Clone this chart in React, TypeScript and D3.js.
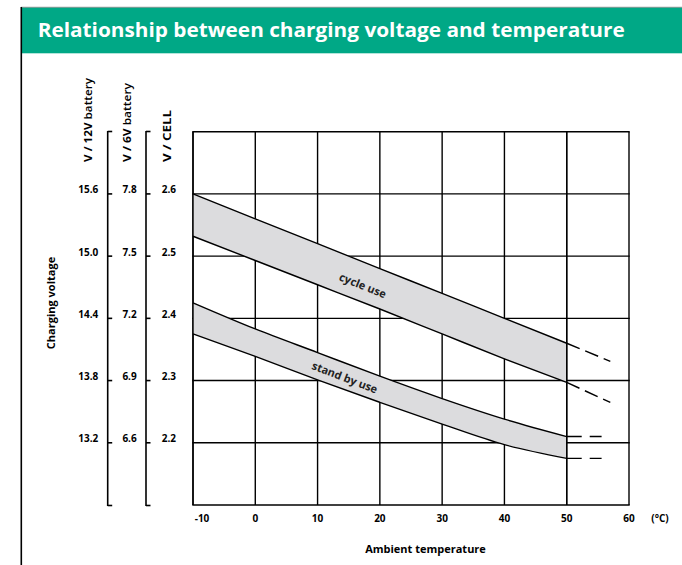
import React from "react";
import * as d3 from "d3";

const temps = [-10, 0, 10, 20, 30, 40, 50];
const cycleUpper = [2.6, 2.56, 2.52, 2.48, 2.44, 2.4, 2.36];
const cycleLower = [2.532, 2.493, 2.454, 2.415, 2.375, 2.335, 2.297];
const standUpper = [2.425, 2.383, 2.345, 2.307, 2.271, 2.238, 2.21];
const standLower = [2.375, 2.339, 2.301, 2.265, 2.23, 2.197, 2.175];

const cycleExtTemps = [50, 57];
const cycleUpperExt = [2.36, 2.331];
const cycleLowerExt = [2.297, 2.265];
const standExtTemps = [50, 55.6];
const standUpperExt = [2.21, 2.21];
const standLowerExt = [2.175, 2.175];

const xTicks = [-10, 0, 10, 20, 30, 40, 50, 60];
const cellTicks = [2.2, 2.3, 2.4, 2.5, 2.6];
const v12Ticks = [13.2, 13.8, 14.4, 15.0, 15.6];
const v6Ticks = [6.6, 6.9, 7.2, 7.5, 7.8];
const gridY = [2.1, 2.2, 2.3, 2.4, 2.5, 2.6, 2.7];

const FONT = "'Open Sans', Lato, sans-serif";

export default function App() {
  const W = 682, H = 565;
  const x = d3.scaleLinear().domain([-10, 60]).range([193, 629]);
  const y = d3.scaleLinear().domain([2.1, 2.7]).range([505, 131.7]);
  const y12 = d3.scaleLinear().domain([12.6, 16.2]).range([505, 131.7]);
  const y6 = d3.scaleLinear().domain([6.3, 8.1]).range([505, 131.7]);

  const area = (up: number[], lo: number[]) =>
    d3
      .area<number>()
      .x((_, i) => x(temps[i]))
      .y0((_, i) => y(lo[i]))
      .y1((_, i) => y(up[i]))
      .curve(d3.curveMonotoneX)(up) || "";
  const line = (ts: number[], vs: number[]) =>
    d3
      .line<number>()
      .x((_, i) => x(ts[i]))
      .y((v) => y(v))
      .curve(d3.curveMonotoneX)(vs) || "";

  const cycAngle =
    (Math.atan2(y(cycleUpper[6]) - y(cycleUpper[0]), x(50) - x(-10)) * 180) / Math.PI;
  const stAngle =
    (Math.atan2(y(standUpper[4]) - y(standUpper[0]), x(30) - x(-10)) * 180) / Math.PI;

  const axisBracket = (ax: number) => (
    <g>
      <line x1={ax} x2={ax} y1={131} y2={506} stroke="#000" strokeWidth={1.6} />
      <line x1={ax} x2={ax + 4.5} y1={131.5} y2={131.5} stroke="#000" strokeWidth={1.6} />
      <line x1={ax} x2={ax + 4.5} y1={505.5} y2={505.5} stroke="#000" strokeWidth={1.6} />
    </g>
  );

  return (
    <svg width={W} height={H} style={{ display: "block", position: "absolute", left: 0, top: 0 }} fontFamily={FONT}>
      <rect x={0} y={0} width={W} height={H} fill="#fff" />
      {/* header */}
      <line x1={21} x2={682} y1={7.3} y2={7.3} stroke="#666" strokeWidth={0.8} />
      <rect x={22} y={7.7} width={660} height={45.6} fill="#00a886" />
      <line x1={21.3} x2={21.3} y1={7} y2={565} stroke="#000" strokeWidth={1.6} />
      <text x={37.7} y={37} fill="#fff" fontWeight={700} fontSize={19.5} textLength={587} lengthAdjust="spacingAndGlyphs">
        Relationship between charging voltage and temperature
      </text>

      {/* grid */}
      {xTicks.map((t) => (
        <line key={"gx" + t} x1={x(t)} x2={x(t)} y1={y(2.7)} y2={y(2.1)} stroke="#000" strokeWidth={1.4} />
      ))}
      {gridY.map((v) => (
        <line key={"gy" + v} x1={x(-10) - 0.7} x2={x(60) + 0.7} y1={y(v)} y2={y(v)} stroke="#000" strokeWidth={1.4} />
      ))}

      {/* bands */}
      <path d={area(cycleUpper, cycleLower)} fill="#dcdcde" />
      <path d={area(standUpper, standLower)} fill="#dcdcde" />
      {[-10, 50].map((t) => (
        <line key={"re" + t} x1={x(t)} x2={x(t)} y1={y(2.7)} y2={y(2.1)} stroke="#000" strokeWidth={1.4} />
      ))}

      {/* band edges */}
      <path d={line(temps, cycleUpper)} fill="none" stroke="#000" strokeWidth={1.4} />
      <path d={line(temps, cycleLower)} fill="none" stroke="#000" strokeWidth={1.4} />
      <path d={line(temps, standUpper)} fill="none" stroke="#000" strokeWidth={1.4} />
      <path d={line(temps, standLower)} fill="none" stroke="#000" strokeWidth={1.4} />
      <path d={line(cycleExtTemps, cycleUpperExt)} fill="none" stroke="#000" strokeWidth={1.4} strokeDasharray="14,6" />
      <path d={line(cycleExtTemps, cycleLowerExt)} fill="none" stroke="#000" strokeWidth={1.4} strokeDasharray="14,6" />
      <path d={line(standExtTemps, standUpperExt)} fill="none" stroke="#000" strokeWidth={1.4} strokeDasharray="15,8" />
      <path d={line(standExtTemps, standLowerExt)} fill="none" stroke="#000" strokeWidth={1.4} strokeDasharray="15,8" />

      {/* band labels */}
      <text x={363} y={285} fontSize={11} fontWeight={700} fill="#222" textAnchor="middle" dominantBaseline="central"
        transform={`rotate(${cycAngle} 363 285)`}>cycle use</text>
      <text x={345} y={377} fontSize={11} fontWeight={700} fill="#222" textAnchor="middle" dominantBaseline="central"
        transform={`rotate(${stAngle} 345 377)`}>stand by use</text>

      {/* x axis labels */}
      {xTicks.map((t) => (
        <text key={"xl" + t} x={x(t) + (t < 0 ? 9 : 0)} y={522} fontSize={10} fontWeight={700} textAnchor="middle">
          {String(t)}
        </text>
      ))}
      <text x={660} y={522} fontSize={10} fontWeight={700} textAnchor="middle">(°C)</text>
      <text x={425.5} y={553} fontSize={11} fontWeight={700} textAnchor="middle">Ambient temperature</text>

      {/* left axes */}
      {axisBracket(107.7)}
      {axisBracket(146)}
      {v12Ticks.map((v) => (
        <g key={"a" + v}>
          <line x1={107.7} x2={112.2} y1={y12(v)} y2={y12(v)} stroke="#000" strokeWidth={1.6} />
          <text x={98.3} y={y12(v) - 0.5} fontSize={10} fontWeight={700} textAnchor="end">{v.toFixed(1)}</text>
        </g>
      ))}
      {v6Ticks.map((v) => (
        <g key={"b" + v}>
          <line x1={146} x2={150.5} y1={y6(v)} y2={y6(v)} stroke="#000" strokeWidth={1.6} />
          <text x={136.7} y={y6(v) - 0.5} fontSize={10} fontWeight={700} textAnchor="end">{v.toFixed(1)}</text>
        </g>
      ))}
      {cellTicks.map((v) => (
        <text key={"c" + v} x={176} y={y(v) - 0.5} fontSize={10} fontWeight={700} textAnchor="end">{v.toFixed(1)}</text>
      ))}

      {/* rotated headers */}
      <text transform="translate(92,162) rotate(-90)" fontSize={11} fontWeight={700} textLength={84} lengthAdjust="spacingAndGlyphs">
        V / 12V <tspan fontWeight={600}>battery</tspan>
      </text>
      <text transform="translate(131.3,162) rotate(-90)" fontSize={11} fontWeight={700} textLength={79} lengthAdjust="spacingAndGlyphs">
        V / 6V <tspan fontWeight={600}>battery</tspan>
      </text>
      <text transform="translate(170.7,162) rotate(-90)" fontSize={11} fontWeight={700} textLength={52} lengthAdjust="spacingAndGlyphs">V / CELL</text>
      <text transform="translate(54.5,303) rotate(-90)" fontSize={11} fontWeight={700} textAnchor="middle">
        Charging voltage
      </text>
    </svg>
  );
}
